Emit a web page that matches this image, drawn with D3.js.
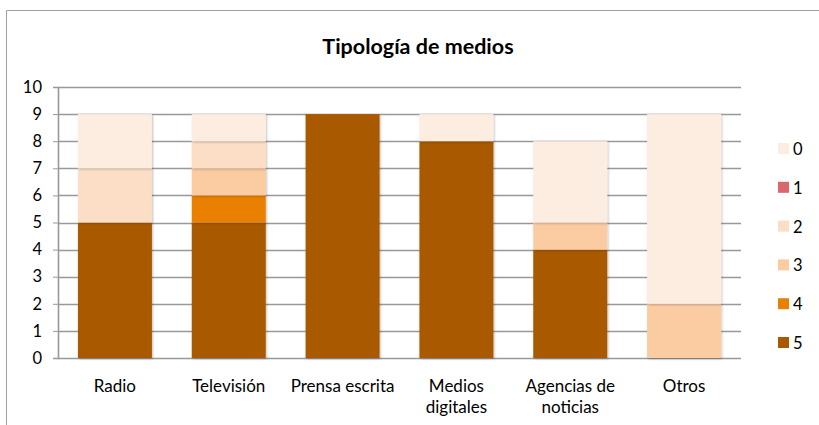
<!DOCTYPE html>
<html>
<head>
<meta charset="utf-8">
<script src="https://cdn.jsdelivr.net/npm/d3@7"></script>
<style>
  body { margin: 0; background: #fff; }
  text { font-family: Lato, "Open Sans", sans-serif; fill: #000; }
</style>
</head>
<body>
<div id="svg"></div>
<script>
const categories = ['Radio', 'Televisión', 'Prensa escrita', 'Medios digitales', 'Agencias de noticias', 'Otros']
const catLines = [['Radio'], ['Televisión'], ['Prensa escrita'], ['Medios', 'digitales'], ['Agencias de', 'noticias'], ['Otros']]
const seriesNames = ['5', '4', '3', '2', '1', '0']   // bottom to top
const s5 = [5, 5, 9, 8, 4, 0]
const s4 = [0, 1, 0, 0, 0, 0]
const s3 = [0, 1, 0, 0, 1, 2]
const s2 = [2, 1, 0, 0, 0, 0]
const s1 = [0, 0, 0, 0, 0, 0]
const s0 = [2, 1, 0, 1, 3, 7]
const yTicks = [0, 1, 2, 3, 4, 5, 6, 7, 8, 9, 10]
const legendOrder = ['0', '1', '2', '3', '4', '5']

const colors = {'5': '#a95a00', '4': '#e98006', '3': '#fbcba2', '2': '#fbdec5', '1': '#d9676d', '0': '#fdece0'}

const rows = categories.map((c, i) => ({cat: c, '5': s5[i], '4': s4[i], '3': s3[i], '2': s2[i], '1': s1[i], '0': s0[i]}))

const margin = {top: 87, left: 58}
const width = 683
const height = 271

const svg = d3.select('#svg').append('svg')
  .attr('width', 819)
  .attr('height', 425)

// outer frame
svg.append('path')
  .attr('d', 'M6.5,430 V10.5 H830')
  .attr('fill', 'none')
  .attr('stroke', '#a0a0a0')

svg.append('text')
  .attr('x', 418)
  .attr('y', 54)
  .attr('text-anchor', 'middle')
  .style('font-size', '21.5px')
  .style('font-weight', 'bold')
  .text('Tipología de medios')

const g = svg.append('g')
  .attr('transform', `translate(${margin.left},${margin.top})`)

const xscale = d3.scaleBand()
  .domain(categories)
  .range([0, width])
  .paddingInner(0.35)
  .paddingOuter(0.175)

const yscale = d3.scaleLinear()
  .domain([0, 10])
  .range([height, 0])

// gridlines
g.append('g')
  .selectAll('line')
  .data(yTicks)
  .enter()
  .append('line')
    .attr('x1', 0)
    .attr('x2', width)
    .attr('y1', d => Math.round(yscale(d)) + 0.5)
    .attr('y2', d => Math.round(yscale(d)) + 0.5)
    .attr('stroke', '#999')
    .attr('stroke-width', 1.6)

// y axis
const leftAxis = d3.axisLeft(yscale).tickValues(yTicks).tickSize(5).tickPadding(11)
const ya = g.append('g').call(leftAxis)
ya.select('.domain').attr('stroke', '#999').attr('stroke-width', 1.6)
ya.selectAll('.tick line').attr('stroke', '#999')
ya.selectAll('.tick text').style('font-size', '16.5px').attr('fill', '#000')

// shadow
const defs = svg.append('defs')
const f = defs.append('filter').attr('id', 'sh').attr('x', '-10%').attr('y', '-10%').attr('width', '130%').attr('height', '130%')
f.append('feDropShadow').attr('dx', 1).attr('dy', 1).attr('stdDeviation', 1.2).attr('flood-color', '#000').attr('flood-opacity', 0.25)

const stacked = d3.stack().keys(seriesNames)(rows)

g.append('g')
  .selectAll('g')
  .data(stacked)
  .enter()
  .append('g')
    .attr('fill', d => colors[d.key])
  .selectAll('rect')
  .data(d => d.filter(p => p[1] > p[0]))
  .enter()
  .append('rect')
    .attr('x', d => xscale(d.data.cat))
    .attr('y', d => yscale(d[1]))
    .attr('width', xscale.bandwidth())
    .attr('height', d => yscale(d[0]) - yscale(d[1]))
    .attr('filter', 'url(#sh)')

// x labels
const xl = g.append('g')
  .selectAll('text')
  .data(categories)
  .enter()
  .append('text')
    .attr('x', d => xscale(d) + xscale.bandwidth() / 2)
    .attr('y', height + 34)
    .attr('text-anchor', 'middle')
    .style('font-size', '17px')
xl.selectAll('tspan')
  .data((d, i) => catLines[i])
  .enter()
  .append('tspan')
    .attr('x', function() { return d3.select(this.parentNode).attr('x') })
    .attr('dy', (d, i) => i === 0 ? 0 : 21)
    .text(d => d)

// legend
const lg = svg.append('g').attr('transform', 'translate(778,143)')
const li = lg.selectAll('g')
  .data(legendOrder)
  .enter()
  .append('g')
    .attr('transform', (d, i) => `translate(0,${i * 38.8})`)
li.append('rect')
  .attr('width', 11)
  .attr('height', 11)
  .attr('fill', d => colors[d])
li.append('text')
  .attr('x', 15)
  .attr('y', 12)
  .style('font-size', '16.5px')
  .text(d => d)
</script>
</body>
</html>
